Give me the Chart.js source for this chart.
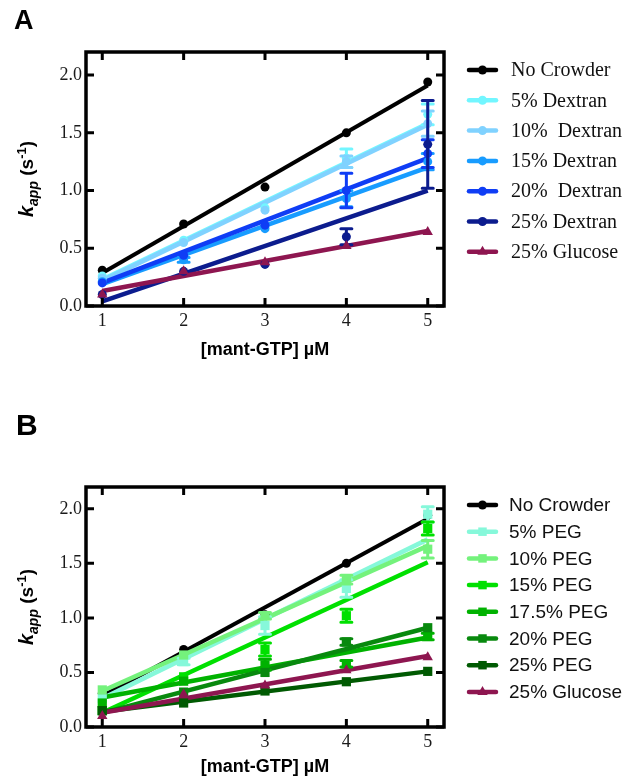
<!DOCTYPE html>
<html>
<head>
<meta charset="utf-8">
<title>kapp vs mant-GTP</title>
<script src="https://cdn.jsdelivr.net/npm/chart.js@4.4.1/dist/chart.umd.min.js"></script>
<style>
  html, body { margin: 0; padding: 0; background: #ffffff; }
  #wrap { position: relative; width: 625px; height: 780px; }
  canvas { position: absolute; left: 0; }
  #panelA { top: 0; }
  #panelB { top: 390px; }
</style>
</head>
<body>
<div id="wrap">
  <canvas id="panelA" width="625" height="390"></canvas>
  <canvas id="panelB" width="625" height="390"></canvas>
</div>
<script>
// ---- concentrations and axis ticks ----
const mantGTP = [1, 2, 3, 4, 5];
const xTickValues = [1, 2, 3, 4, 5];
const yTickValues = [0, 0.5, 1.0, 1.5, 2.0];

// ---- panel A: dextran crowders (kapp in s^-1, error = SD, fit = value at 1 and 5 µM) ----
const labelsA = ['No Crowder', '5% Dextran', '10%  Dextran', '15% Dextran', '20%  Dextran', '25% Dextran', '25% Glucose'];

const kNoCrowder   = [0.31, 0.71, 1.03, 1.50, 1.94];
const errNoCrowder = [0, 0, 0, 0, 0];
const fitNoCrowder = [0.285, 1.91];

const kDex5   = [0.26, 0.57, 0.85, 1.28, 1.66];
const errDex5 = [0, 0, 0, 0.08, 0.09];
const fitDex5 = [0.23, 1.58];

const kDex10   = [0.24, 0.55, 0.83, 1.25, 1.58];
const errDex10 = [0, 0, 0, 0.05, 0.11];
const fitDex10 = [0.22, 1.57];

const kDex15   = [0.21, 0.40, 0.67, 0.93, 1.25];
const errDex15 = [0, 0.02, 0, 0.07, 0.07];
const fitDex15 = [0.19, 1.20];

const kDex20   = [0.20, 0.44, 0.70, 1.00, 1.32];
const errDex20 = [0, 0, 0, 0.15, 0.12];
const fitDex20 = [0.20, 1.28];

const kDex25   = [0.10, 0.30, 0.36, 0.60, 1.40];
const errDex25 = [0, 0, 0, 0.07, 0.38];
const fitDex25 = [0.04, 1.00];

const kGlucose   = [0.10, 0.30, 0.38, 0.52, 0.64];
const errGlucose = [0, 0, 0, 0, 0];
const fitGlucose = [0.13, 0.65];

// ---- panel B: PEG crowders ----
const labelsB = ['No Crowder', '5% PEG', '10% PEG', '15% PEG', '17.5% PEG', '20% PEG', '25% PEG', '25% Glucose'];

const kPeg5   = [0.26, 0.60, 0.93, 1.27, 1.95];
const errPeg5 = [0, 0.03, 0.08, 0.08, 0.07];
const fitPeg5 = [0.26, 1.72];

const kPeg10   = [0.34, 0.66, 1.02, 1.35, 1.63];
const errPeg10 = [0, 0, 0.03, 0.04, 0.08];
const fitPeg10 = [0.33, 1.66];

const kPeg15   = [0.15, 0.46, 0.71, 1.02, 1.82];
const errPeg15 = [0, 0, 0.06, 0.06, 0.06];
const fitPeg15 = [0.13, 1.51];

const kPeg175   = [0.22, 0.42, 0.57, 0.58, 0.83];
const errPeg175 = [0, 0, 0.05, 0.03, 0.03];
const fitPeg175 = [0.27, 0.82];

const kPeg20   = [0.15, 0.32, 0.50, 0.78, 0.91];
const errPeg20 = [0, 0, 0, 0.03, 0];
const fitPeg20 = [0.13, 0.91];

const kPeg25   = [0.15, 0.22, 0.33, 0.415, 0.51];
const errPeg25 = [0, 0, 0, 0, 0];
const fitPeg25 = [0.14, 0.51];

// ---- styling ----
const seriesA = [
  { label: labelsA[0], color: '#000000', marker: 'circle',   k: kNoCrowder, err: errNoCrowder, fit: fitNoCrowder },
  { label: labelsA[1], color: '#72F6FF', marker: 'circle',   k: kDex5,      err: errDex5,      fit: fitDex5 },
  { label: labelsA[2], color: '#80D2FF', marker: 'circle',   k: kDex10,     err: errDex10,     fit: fitDex10 },
  { label: labelsA[3], color: '#189CFF', marker: 'circle',   k: kDex15,     err: errDex15,     fit: fitDex15 },
  { label: labelsA[4], color: '#0F3DF5', marker: 'circle',   k: kDex20,     err: errDex20,     fit: fitDex20 },
  { label: labelsA[5], color: '#0C1C8E', marker: 'circle',   k: kDex25,     err: errDex25,     fit: fitDex25 },
  { label: labelsA[6], color: '#8E1650', marker: 'triangle', k: kGlucose,   err: errGlucose,   fit: fitGlucose }
];

const seriesB = [
  { label: labelsB[0], color: '#000000', marker: 'circle',   k: kNoCrowder, err: errNoCrowder, fit: fitNoCrowder },
  { label: labelsB[1], color: '#86F8DA', marker: 'rect',     k: kPeg5,      err: errPeg5,      fit: fitPeg5 },
  { label: labelsB[2], color: '#74F27C', marker: 'rect',     k: kPeg10,     err: errPeg10,     fit: fitPeg10 },
  { label: labelsB[3], color: '#00E000', marker: 'rect',     k: kPeg15,     err: errPeg15,     fit: fitPeg15 },
  { label: labelsB[4], color: '#00B200', marker: 'rect',     k: kPeg175,    err: errPeg175,    fit: fitPeg175 },
  { label: labelsB[5], color: '#08890E', marker: 'rect',     k: kPeg20,     err: errPeg20,     fit: fitPeg20 },
  { label: labelsB[6], color: '#005A02', marker: 'rect',     k: kPeg25,     err: errPeg25,     fit: fitPeg25 },
  { label: labelsB[7], color: '#8E1650', marker: 'triangle', k: kGlucose,   err: errGlucose,   fit: fitGlucose }
];

const markerRadius = { circle: 4.5, rect: 6.5, triangle: 6 };
const legendMarkerRadius = { circle: 4.5, rect: 6, triangle: 6 };

// draws the kapp (s-1) title with italic/subscript/superscript pieces, rotated
function drawYTitle(ctx, cx, cy) {
  const fam = '"Liberation Sans", Arial, sans-serif';
  const parts = [
    { text: 'k',   font: 'italic bold 20px ' + fam, dy: 0 },
    { text: 'app', font: 'italic bold 14px ' + fam, dy: 5 },
    { text: ' (s', font: 'bold 19px ' + fam,        dy: 0 },
    { text: '-1',  font: 'bold 13px ' + fam,        dy: -7 },
    { text: ')',   font: 'bold 19px ' + fam,        dy: 0 }
  ];
  ctx.save();
  ctx.translate(cx, cy);
  ctx.rotate(-Math.PI / 2);
  ctx.fillStyle = '#000';
  ctx.textBaseline = 'alphabetic';
  ctx.textAlign = 'left';
  let total = 0;
  parts.forEach(p => { ctx.font = p.font; p.w = ctx.measureText(p.text).width; total += p.w; });
  let x = -total / 2;
  parts.forEach(p => { ctx.font = p.font; ctx.fillText(p.text, x, p.dy); x += p.w; });
  ctx.restore();
}

function buildPanel(canvasId, series, cfg) {
  const datasets = [];
  // fitted lines
  series.forEach((s, i) => {
    datasets.push({
      type: 'line',
      label: s.label + ' fit',
      data: [{ x: mantGTP[0], y: s.fit[0] }, { x: mantGTP[mantGTP.length - 1], y: s.fit[1] }],
      borderColor: s.color,
      backgroundColor: s.color,
      borderWidth: s.color === '#000000' ? 4 : 4.5,
      pointRadius: 0,
      fill: false,
      order: 100 - i,
      isFit: true
    });
  });
  // measured points with error bars
  series.forEach((s, i) => {
    datasets.push({
      type: 'scatter',
      label: s.label,
      data: mantGTP.map((c, j) => ({ x: c, y: s.k[j] })),
      errors: s.err,
      borderColor: s.color,
      backgroundColor: s.color,
      pointStyle: s.marker,
      pointRadius: markerRadius[s.marker],
      pointBorderWidth: 0,
      showLine: false,
      order: 50 - i
    });
  });

  const errorBars = {
    id: 'errorBars',
    afterDatasetDraw(chart, args) {
      const ds = chart.data.datasets[args.index];
      if (!ds.errors) return;
      const ctx = chart.ctx;
      const xs = chart.scales.x, ys = chart.scales.y;
      ctx.save();
      ctx.strokeStyle = ds.borderColor;
      ctx.lineWidth = 3;
      ctx.lineCap = 'round';
      ds.data.forEach((p, j) => {
        const e = ds.errors[j];
        if (!e) return;
        const px = xs.getPixelForValue(p.x);
        const top = ys.getPixelForValue(p.y + e);
        const bot = ys.getPixelForValue(p.y - e);
        ctx.beginPath();
        ctx.moveTo(px, top); ctx.lineTo(px, bot);
        ctx.moveTo(px - 5.5, top); ctx.lineTo(px + 5.5, top);
        ctx.moveTo(px - 5.5, bot); ctx.lineTo(px + 5.5, bot);
        ctx.stroke();
      });
      ctx.restore();
    }
  };

  const frameAndDecor = {
    id: 'frameAndDecor',
    afterDraw(chart) {
      const ctx = chart.ctx;
      const a = chart.chartArea;
      const xs = chart.scales.x, ys = chart.scales.y;
      ctx.save();
      // box frame
      ctx.strokeStyle = '#000';
      ctx.lineWidth = 3.5;
      ctx.lineCap = 'butt';
      ctx.strokeRect(a.left, a.top, a.right - a.left, a.bottom - a.top);
      // inward tick marks on all four sides
      ctx.lineWidth = 3;
      const tl = 8;
      ctx.beginPath();
      xTickValues.forEach(v => {
        const px = xs.getPixelForValue(v);
        ctx.moveTo(px, a.bottom); ctx.lineTo(px, a.bottom - tl);
        ctx.moveTo(px, a.top); ctx.lineTo(px, a.top + tl);
      });
      yTickValues.forEach(v => {
        const py = ys.getPixelForValue(v);
        ctx.moveTo(a.left, py); ctx.lineTo(a.left + tl, py);
        ctx.moveTo(a.right, py); ctx.lineTo(a.right - tl, py);
      });
      ctx.stroke();

      // panel letter
      ctx.fillStyle = '#000';
      ctx.font = 'bold ' + cfg.letterSize + 'px "Liberation Sans", Arial, sans-serif';
      ctx.textAlign = 'left';
      ctx.textBaseline = 'alphabetic';
      ctx.fillText(cfg.letter, cfg.letterX, cfg.letterY);

      // x title
      ctx.font = 'bold 18px "Liberation Sans", Arial, sans-serif';
      ctx.textAlign = 'center';
      ctx.textBaseline = 'middle';
      ctx.fillText('[mant-GTP] \u00B5M', (a.left + a.right) / 2, a.bottom + cfg.xTitleOffset);

      // y title
      drawYTitle(ctx, 33, (a.top + a.bottom) / 2);

      // legend
      series.forEach((s, i) => {
        const y = cfg.legendTop + i * cfg.legendStep;
        ctx.strokeStyle = s.color;
        ctx.lineWidth = 4.5;
        ctx.lineCap = 'round';
        ctx.beginPath();
        ctx.moveTo(469, y); ctx.lineTo(496, y);
        ctx.stroke();
        ctx.fillStyle = s.color;
        Chart.helpers.drawPoint(ctx, {
          pointStyle: s.marker, radius: legendMarkerRadius[s.marker], rotation: 0, borderWidth: 0
        }, 482.5, y);
        ctx.fillStyle = '#111';
        ctx.font = cfg.legendFont;
        ctx.textAlign = 'left';
        ctx.textBaseline = 'middle';
        ctx.fillText(s.label, cfg.legendTextX, y + 1);
      });
      ctx.restore();
    }
  };

  const tickFont = { family: '"Liberation Serif", "Times New Roman", serif', size: 18 };

  return new Chart(document.getElementById(canvasId), {
    type: 'scatter',
    data: { datasets },
    options: {
      responsive: false,
      animation: false,
      devicePixelRatio: 1,
      layout: { padding: { top: cfg.top, right: 625 - cfg.right, left: 0, bottom: 0 } },
      plugins: { legend: { display: false }, tooltip: { enabled: false } },
      scales: {
        x: {
          type: 'linear',
          min: 0.8, max: 5.2,
          grid: { display: false, drawTicks: false },
          border: { display: false },
          ticks: { font: tickFont, color: '#1a1a1a', padding: 4, maxRotation: 0,
                   callback: v => String(v) },
          afterBuildTicks: sc => { sc.ticks = xTickValues.map(v => ({ value: v })); },
          afterFit: sc => { sc.height = 390 - cfg.bottom; }
        },
        y: {
          type: 'linear',
          min: 0, max: 2.2,
          grid: { display: false, drawTicks: false },
          border: { display: false },
          ticks: { font: tickFont, color: '#1a1a1a', padding: 4,
                   callback: v => Number(v).toFixed(1) },
          afterBuildTicks: sc => { sc.ticks = yTickValues.map(v => ({ value: v })); },
          afterFit: sc => { sc.width = cfg.left; }
        }
      }
    },
    plugins: [errorBars, frameAndDecor]
  });
}

buildPanel('panelA', seriesA, {
  left: 86, right: 444, top: 52, bottom: 306,
  letter: 'A', letterX: 14, letterY: 29, letterSize: 27,
  xTitleOffset: 44,
  legendTop: 70, legendStep: 30.3, legendTextX: 511,
  legendFont: '20px "Liberation Serif", "Times New Roman", serif'
});

buildPanel('panelB', seriesB, {
  left: 86, right: 444, top: 97, bottom: 337,
  letter: 'B', letterX: 16, letterY: 45, letterSize: 30,
  xTitleOffset: 40,
  legendTop: 115, legendStep: 26.7, legendTextX: 509,
  legendFont: '19px "Liberation Sans", Arial, sans-serif'
});
</script>
</body>
</html>
